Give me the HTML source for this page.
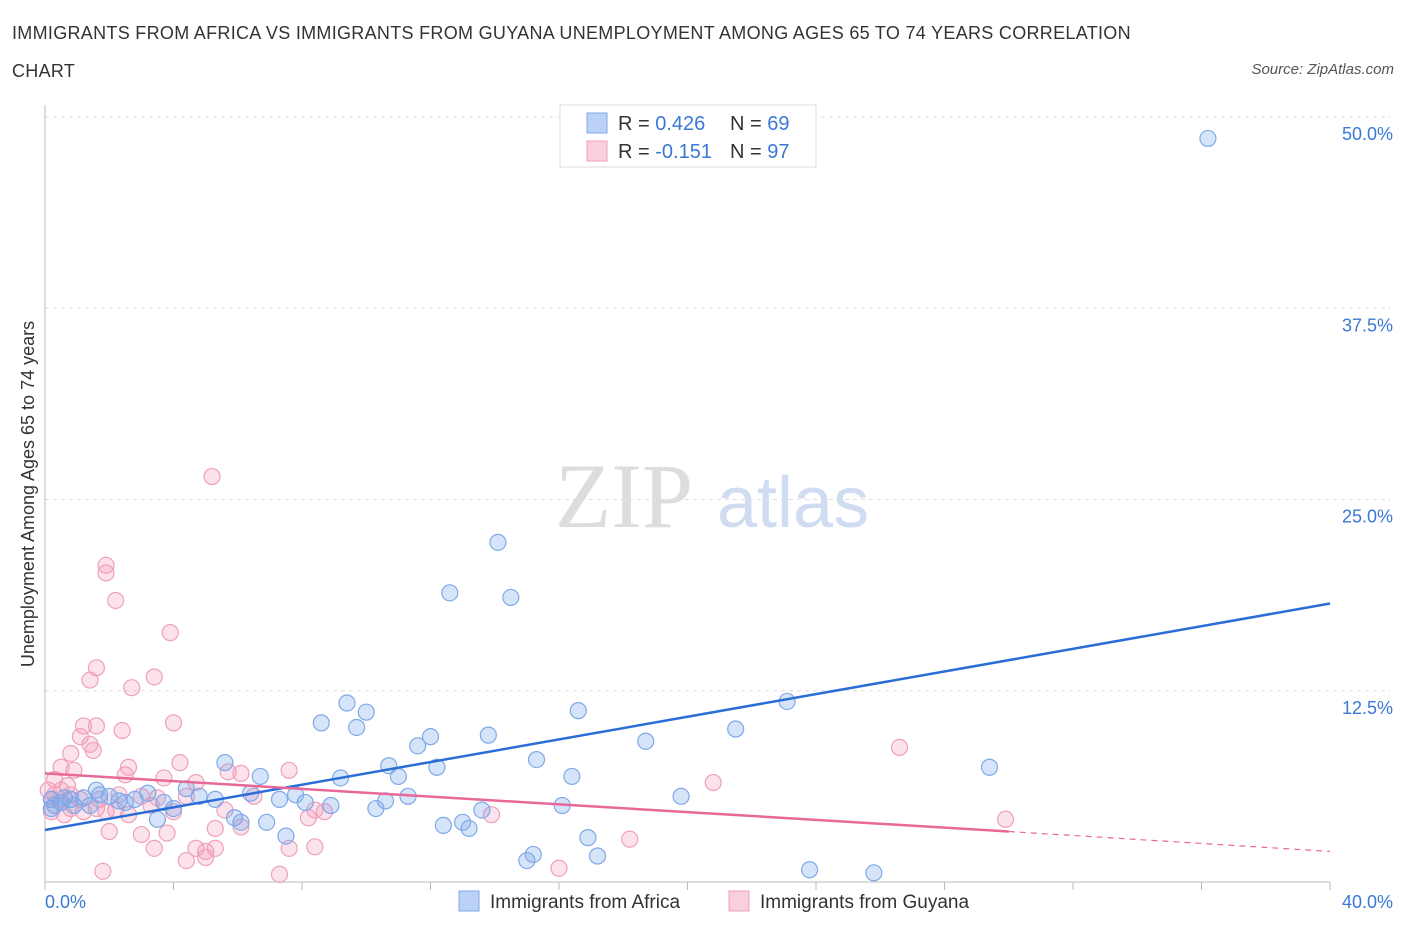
<!DOCTYPE html>
<html><head><meta charset="utf-8">
<style>
body{margin:0;background:#fff;font-family:"Liberation Sans",sans-serif;}
#wrap{position:relative;width:1406px;height:930px;overflow:hidden;}
.t{position:absolute;white-space:nowrap;}
</style></head>
<body>
<div id="wrap">
<div class="t" style="left:12px;top:14px;font-size:18px;color:#333;line-height:38px;width:1140px;white-space:normal;letter-spacing:0.3px;">IMMIGRANTS FROM AFRICA VS IMMIGRANTS FROM GUYANA UNEMPLOYMENT AMONG AGES 65 TO 74 YEARS CORRELATION CHART</div>
<div class="t" style="right:12px;top:61px;font-size:15px;font-style:italic;color:#555;">Source: ZipAtlas.com</div>
<svg id="svg" width="1406" height="930" style="position:absolute;left:0;top:0"></svg>
</div>
<script>
const xTickLabels=["0.0%","40.0%"];
const yTickValues=[12.5,25,37.5,50];
const yTickLabels=["12.5%","25.0%","37.5%","50.0%"];
const africaX=[36.2,14.1,12.6,14.5,9.4,10.0,8.6,9.7,16.6,23.1,12.0,11.6,13.8,21.5,18.7,15.3,10.7,12.2,11.0,9.2,16.4,29.4,5.6,6.7,11.3,10.6,10.3,8.9,7.3,8.1,7.8,6.4,5.3,4.8,4.4,4.0,3.2,2.8,2.3,1.7,1.2,0.8,0.5,0.3,0.2,0.2,0.6,0.9,1.4,2.0,19.8,16.1,13.6,12.4,13.0,13.2,16.9,17.2,15.2,15.0,23.8,25.8,6.1,6.9,7.5,3.5,5.9,2.5,1.6,3.7];
const africaY=[48.6,22.2,18.9,18.6,11.7,11.1,10.4,10.1,11.2,11.8,9.5,8.9,9.6,10.0,9.2,8.0,7.6,7.5,6.9,6.8,6.9,7.5,7.8,6.9,5.6,5.3,4.8,5.0,5.4,5.2,5.7,5.8,5.4,5.6,6.1,4.8,5.8,5.4,5.3,5.7,5.5,5.4,5.2,5.0,4.8,5.4,5.5,5.0,5.0,5.6,5.6,5.0,4.7,3.7,3.9,3.5,2.9,1.7,1.8,1.4,0.8,0.6,3.9,3.9,3.0,4.1,4.2,5.2,6.0,5.2];
const guyanaX=[5.2,1.9,1.9,2.2,3.9,1.6,1.4,3.4,2.7,4.0,1.2,1.6,2.4,1.1,1.4,0.8,4.2,26.6,1.5,0.5,0.9,2.6,2.5,3.7,4.7,5.7,6.1,7.6,20.8,0.3,0.5,0.8,1.1,1.7,2.3,3.0,3.5,4.4,6.5,5.6,8.4,8.7,8.2,13.9,29.9,0.2,0.6,1.6,1.9,4.0,5.3,6.1,2.0,3.0,3.8,7.6,8.4,3.4,4.7,5.0,5.3,18.2,4.4,5.0,16.0,1.8,7.3,0.3,0.2,0.5,0.8,1.2,2.2,2.6,3.3,0.1,0.7];
const guyanaY=[26.5,20.7,20.2,18.4,16.3,14.0,13.2,13.4,12.7,10.4,10.2,10.2,9.9,9.5,9.0,8.4,7.8,8.8,8.6,7.5,7.3,7.5,7.0,6.8,6.5,7.2,7.1,7.3,6.5,6.7,6.0,5.7,5.4,5.4,5.7,5.6,5.5,5.6,5.6,4.7,4.7,4.6,4.2,4.4,4.1,4.6,4.4,4.8,4.6,4.6,3.5,3.6,3.3,3.1,3.2,2.2,2.3,2.2,2.2,2.0,2.2,2.8,1.4,1.6,0.9,0.7,0.5,5.7,5.4,5.2,4.8,4.6,4.7,4.4,5.0,6.0,6.3];
const africaTrend=[[0,3.4],[40,18.2]];
const guyanaTrend=[[0,7.1],[30,3.3],[40,2.0]];

const NS="http://www.w3.org/2000/svg";
const svg=document.getElementById('svg');
const X0=45,X1=1330,Y0=882,Y50=117;
const xs=v=>X0+(X1-X0)*v/40;
const ys=v=>Y0-(Y0-Y50)*v/50;
function mk(tag,attrs,parent){const e=document.createElementNS(NS,tag);for(const k in attrs)e.setAttribute(k,attrs[k]);(parent||svg).appendChild(e);return e;}

let wm=mk('text',{x:555,y:527,'font-size':92,'font-family':'Liberation Serif',fill:'#ddd'});
wm.textContent='ZIP';


let wm2=mk('text',{x:717,y:527,'font-size':72,'font-family':'Liberation Sans',fill:'#cfdcf2'});
wm2.textContent='atlas';



yTickValues.forEach((v,i)=>{
  let g=mk('line',{x1:X0,x2:X1+60,y1:ys(v),y2:ys(v),stroke:'#ddd','stroke-dasharray':'4,4'});
  
  
  let t=mk('text',{x:1393,y:ys(v)+23,'text-anchor':'end','font-size':18,fill:'#3a78d6'});
  t.textContent=yTickLabels[i];
  
  
});
let ax=mk('line',{x1:X0,x2:X1,y1:Y0,y2:Y0,stroke:'#bbb'});


let ay=mk('line',{x1:X0,x2:X0,y1:105,y2:Y0,stroke:'#bbb'});


for(let i=0;i<=10;i++){
  let tk=mk('line',{x1:xs(i*4),x2:xs(i*4),y1:Y0,y2:Y0+8,stroke:'#bbb'});
  
  
}
[[0,'start'],[40,'end']].forEach((p,i)=>{
  let t=mk('text',{x:i?1393:45,y:908,'text-anchor':p[1],'font-size':18,fill:'#3a78d6'});
  t.textContent=xTickLabels[i];
  
  
});
let yt=mk('text',{x:0,y:0,'font-size':18,fill:'#333','text-anchor':'middle',transform:'translate(34,494) rotate(-90)'});
yt.textContent='Unemployment Among Ages 65 to 74 years';



function pts(X,Y,fill,stroke,name){
  X.forEach((x,i)=>{
    let c=mk('circle',{cx:xs(x),cy:ys(Y[i]),r:8,fill:fill,stroke:stroke,'stroke-width':1.2});
    
    
  });
}
pts(guyanaX,guyanaY,'rgba(244,160,190,0.3)','#eea0bb','point-guyana');
pts(africaX,africaY,'rgba(120,165,235,0.3)','#7fa9e8','point-africa');

let bl=mk('line',{x1:xs(africaTrend[0][0]),y1:ys(africaTrend[0][1]),x2:xs(africaTrend[1][0]),y2:ys(africaTrend[1][1]),stroke:'#2a6dd6','stroke-width':2.5});


let pl=mk('line',{x1:xs(guyanaTrend[0][0]),y1:ys(guyanaTrend[0][1]),x2:xs(guyanaTrend[1][0]),y2:ys(guyanaTrend[1][1]),stroke:'#e8689a','stroke-width':2.5});


let pd=mk('line',{x1:xs(guyanaTrend[1][0]),y1:ys(guyanaTrend[1][1]),x2:xs(guyanaTrend[2][0]),y2:ys(guyanaTrend[2][1]),stroke:'#e8689a','stroke-width':1.2,'stroke-dasharray':'6,5'});



let lg=mk('rect',{x:560,y:105,width:256,height:62,fill:'#fff',stroke:'#ddd'});


[['rgba(120,165,235,0.5)','#7fa9e8','0.426','69'],['rgba(244,160,190,0.5)','#eea0bb','-0.151','97']].forEach((r,i)=>{
  const y=113+i*28;
  let s=mk('rect',{x:587,y:y,width:20,height:20,fill:r[0],stroke:r[1]});
  
  
  let t=mk('text',{x:618,y:y+17,'font-size':20,fill:'#333'});
  t.innerHTML='R = <tspan fill="#3a78d6">'+r[2]+'</tspan><tspan x="730">N = </tspan><tspan fill="#3a78d6">'+r[3]+'</tspan>';
  
  
});

[[459,'rgba(120,165,235,0.5)','#7fa9e8','Immigrants from Africa'],[729,'rgba(244,160,190,0.5)','#eea0bb','Immigrants from Guyana']].forEach(r=>{
  let s=mk('rect',{x:r[0],y:891,width:20,height:20,fill:r[1],stroke:r[2]});
  
  
  let t=mk('text',{x:r[0]+31,y:908,'font-size':19,fill:'#333'});
  t.textContent=r[3];
  
  
});
</script>
</body></html>
